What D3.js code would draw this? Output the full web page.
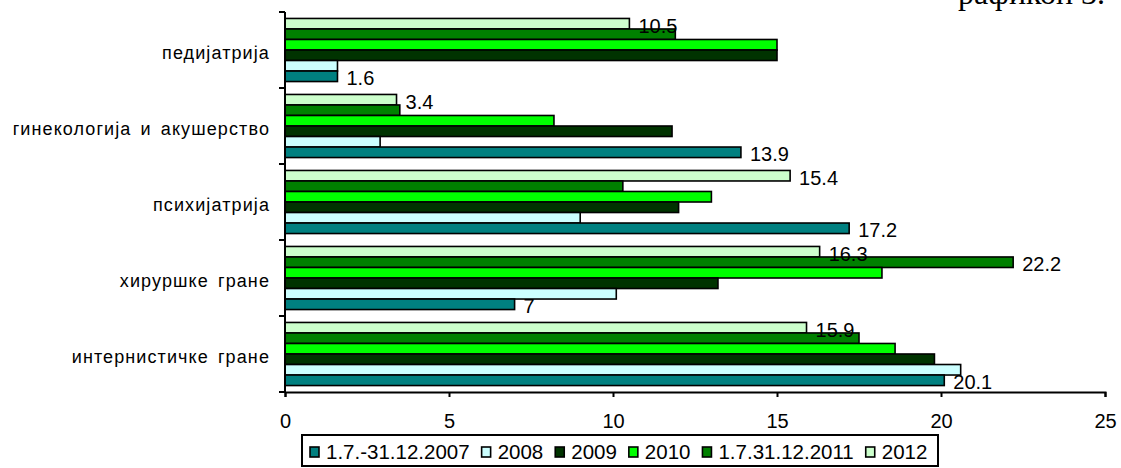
<!DOCTYPE html>
<html>
<head>
<meta charset="utf-8">
<script src="https://cdn.jsdelivr.net/npm/d3@7"></script>
<style>
  html, body { margin: 0; padding: 0; background: #fff; }
  svg { display: block; }
  text { font-family: "Liberation Sans", Arial, sans-serif; fill: #000; }
</style>
</head>
<body>
<svg id="chart" width="1121" height="468"></svg>
<script>
// ---- data ----
const categories = ["педијатрија", "гинекологија и акушерство", "психијатрија", "хируршке гране", "интернистичке гране"];
const seriesNames = ["1.7.-31.12.2007", "2008", "2009", "2010", "1.7.31.12.2011", "2012"];
const seriesColors = ["#008080", "#CCFFFF", "#003300", "#00FF00", "#008000", "#CCFFCC"];
const v2007 = [1.6, 13.9, 17.2, 7, 20.1];
const v2008 = [1.6, 2.9, 9.0, 10.1, 20.6];
const v2009 = [15.0, 11.8, 12.0, 13.2, 19.8];
const v2010 = [15.0, 8.2, 13.0, 18.2, 18.6];
const v2011 = [11.9, 3.5, 10.3, 22.2, 17.5];
const v2012 = [10.5, 3.4, 15.4, 16.3, 15.9];
const xTicks = [0, 5, 10, 15, 20, 25];
// which [series index, category index] pairs carry a value label
const labelled = [[5,0],[0,0],[5,1],[0,1],[5,2],[0,2],[5,3],[4,3],[0,3],[5,4],[0,4]];
const title = "рафикон 3.";

const seriesValues = [v2007, v2008, v2009, v2010, v2011, v2012];

// ---- layout ----
const svg = d3.select("#chart");
const plot = { left: 285, right: 1105, top: 12, bottom: 392 };

const x = d3.scaleLinear().domain([0, 25]).range([plot.left, plot.right]);
const y0 = d3.scaleBand().domain(categories).range([plot.top, plot.bottom])
  .paddingInner(0.17).paddingOuter(0.085);
// series drawn top-to-bottom from last to first
const seriesIdx = d3.range(seriesNames.length).reverse();
const y1 = d3.scaleBand().domain(seriesIdx).range([0, y0.bandwidth()]);

// title (clipped at top edge, as in the reference)
svg.append("text")
  .attr("x", 958).attr("y", 4)
  .style("font-family", "'Liberation Serif', 'Times New Roman', serif")
  .style("font-size", "32px")
  .text(title);

// bars
const groups = svg.append("g").selectAll("g")
  .data(categories)
  .join("g")
  .attr("transform", d => `translate(0,${y0(d)})`);

groups.selectAll("rect")
  .data((c, ci) => seriesIdx.map(si => ({ si, ci, v: seriesValues[si][ci] })))
  .join("rect")
  .attr("x", x(0))
  .attr("y", d => y1(d.si))
  .attr("width", d => x(d.v) - x(0))
  .attr("height", y1.bandwidth())
  .attr("fill", d => seriesColors[d.si])
  .attr("stroke", "#000")
  .attr("stroke-width", 1.6);

// value labels
svg.append("g").selectAll("text")
  .data(labelled.map(([si, ci]) => ({ si, ci, v: seriesValues[si][ci] })))
  .join("text")
  .attr("x", d => x(d.v) + 9)
  .attr("y", d => y0(categories[d.ci]) + y1(d.si) + y1.bandwidth() / 2 + 9)
  .style("font-size", "20px")
  .text(d => d.v);

// y axis
const yAxisG = svg.append("g");
yAxisG.append("line")
  .attr("x1", plot.left).attr("x2", plot.left)
  .attr("y1", plot.top).attr("y2", plot.bottom)
  .attr("stroke", "#000").attr("stroke-width", 2);
const bounds = categories.map(c => y0(c) - y0.step() * y0.paddingInner() / 2);
bounds.push(plot.bottom);
bounds[0] = plot.top;
yAxisG.selectAll("line.tick")
  .data(bounds)
  .join("line")
  .attr("class", "tick")
  .attr("x1", plot.left - 6).attr("x2", plot.left)
  .attr("y1", d => d).attr("y2", d => d)
  .attr("stroke", "#000").attr("stroke-width", 2);
yAxisG.selectAll("text")
  .data(categories)
  .join("text")
  .attr("x", 270)
  .attr("y", d => y0(d) + y0.bandwidth() / 2 + 9)
  .attr("text-anchor", "end")
  .style("font-size", "18px")
  .style("letter-spacing", "1.1px")
  .style("word-spacing", "3px")
  .text(d => d);

// x axis
const xAxis = d3.axisBottom(x).tickValues(xTicks).tickSize(5).tickPadding(27).tickFormat(d3.format("d"));
const xg = svg.append("g").attr("transform", `translate(0,${plot.bottom})`).call(xAxis);
xg.select(".domain").attr("stroke", "#000").attr("stroke-width", 2);
xg.selectAll(".tick line").attr("stroke", "#000").attr("stroke-width", 2);
xg.selectAll(".tick text").style("font-size", "20px").style("font-family", "'Liberation Sans', Arial, sans-serif").attr("dy", "0.2em");

// legend
const legend = svg.append("g");
legend.append("rect")
  .attr("x", 302).attr("y", 435).attr("width", 636).attr("height", 31)
  .attr("fill", "#fff").attr("stroke", "#000").attr("stroke-width", 2);
let lx = 310;
seriesNames.forEach((name, i) => {
  legend.append("rect")
    .attr("x", lx).attr("y", 447).attr("width", 9).attr("height", 10)
    .attr("fill", seriesColors[i]).attr("stroke", "#000").attr("stroke-width", 1.6);
  const t = legend.append("text")
    .attr("x", lx + 16).attr("y", 459)
    .style("font-size", "20.5px")
    .text(name);
  lx += 16 + t.node().getComputedTextLength() + 12;
});
</script>
</body>
</html>
